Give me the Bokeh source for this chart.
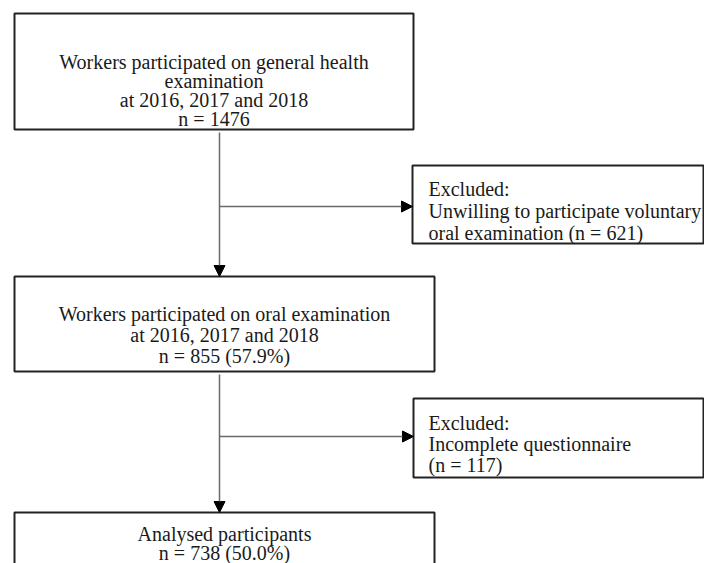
from bokeh.plotting import figure
from bokeh.models import Range1d, Arrow, NormalHead
from bokeh.core.properties import value
from bokeh.embed import file_html
from bokeh.resources import INLINE

# ---- data ----
stage_counts = [1476, 855, 738]
stage_pcts = [None, "57.9%", "50.0%"]
excluded_counts = [621, 117]
years = "at 2016, 2017 and 2018"

main_lines = [
    ["Workers participated on general health", "examination", years,
     "n = %d" % stage_counts[0]],
    ["Workers participated on oral examination", years,
     "n = %d (%s)" % (stage_counts[1], stage_pcts[1])],
    ["Analysed participants", "n = %d (%s)" % (stage_counts[2], stage_pcts[2])],
]
excl_lines = [
    ["Excluded:", "Unwilling to participate voluntary",
     "oral examination (n = %d)" % excluded_counts[0]],
    ["Excluded:", "Incomplete questionnaire", "(n = %d)" % excluded_counts[1]],
]

# ---- layout (picture pixel coordinates) ----
main_boxes = [(14, 413, 13, 129), (14, 434, 276, 371), (14, 434, 512, 600)]
main_base = [[61, 80, 99, 118], [313, 334, 355], [533, 552]]
excl_boxes = [(412, 703, 165, 243), (413, 703, 398, 477)]
excl_base = [[188, 210, 232], [422, 443, 464]]
excl_x = 428
conn_x = 219

W, H = 704, 563
p = figure(width=W, height=H, x_range=Range1d(0, W), y_range=Range1d(H, 0),
           output_backend="svg", toolbar_location=None, min_border=0)
p.axis.visible = False
p.grid.visible = False
p.outline_line_color = None
p.background_fill_color = "white"
p.border_fill_color = "white"

boxes = main_boxes + excl_boxes
p.quad(left=[b[0] for b in boxes], right=[b[1] for b in boxes],
       top=[b[2] for b in boxes], bottom=[b[3] for b in boxes],
       fill_color="white", line_color="#222222", line_width=2)

font = value("Liberation Serif")
tx, ty, tt = [], [], []
for (l, r, t, b), lines, bases in zip(main_boxes, main_lines, main_base):
    for s, y in zip(lines, bases):
        tx.append((l + r) / 2); ty.append(y); tt.append(s)
p.text(x=tx, y=ty, text=tt, text_align="center", text_baseline="alphabetic",
       text_font=font, text_font_size="20px", text_color="#1a1a1a")

ex, ey, et = [], [], []
for lines, bases in zip(excl_lines, excl_base):
    for s, y in zip(lines, bases):
        ex.append(excl_x); ey.append(y); et.append(s)
p.text(x=ex, y=ey, text=et, text_align="left", text_baseline="alphabetic",
       text_font=font, text_font_size="20px", text_color="#1a1a1a")

gray = "#6a6a6a"
arrows = [
    (conn_x, main_boxes[0][3] + 3, conn_x, main_boxes[1][2]),
    (conn_x, 206, excl_boxes[0][0], 206),
    (conn_x, main_boxes[1][3] + 3, conn_x, main_boxes[2][2]),
    (conn_x, 436, excl_boxes[1][0], 436),
]
for x0, y0, x1, y1 in arrows:
    p.add_layout(Arrow(x_start=x0, y_start=y0, x_end=x1, y_end=y1,
                       line_color=gray, line_width=1.5,
                       end=NormalHead(size=11, fill_color="black", line_color="black",
                                      line_width=1)))

open("out.html", "w").write(file_html(p, INLINE))
